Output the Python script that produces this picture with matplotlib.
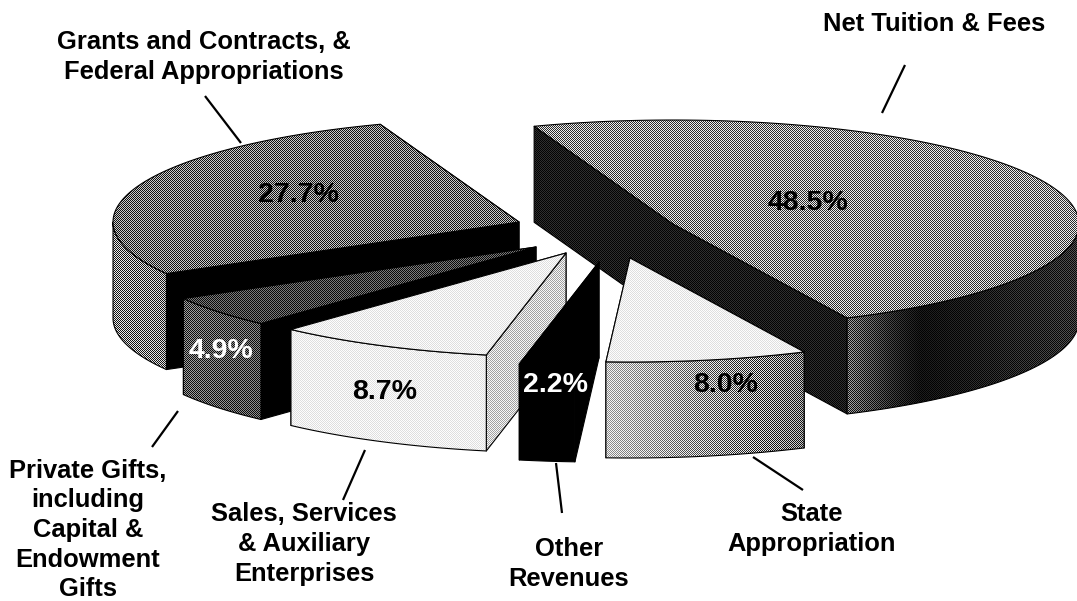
import numpy as np
import matplotlib
matplotlib.use("Agg")
import matplotlib.pyplot as plt
from matplotlib.patches import Polygon

# slices, clockwise from the back of the pie
labels = ["Net Tuition & Fees", "State\nAppropriation", "Other\nRevenues",
          "Sales, Services\n& Auxiliary\nEnterprises",
          "Private Gifts,\nincluding\nCapital &\nEndowment\nGifts",
          "Grants and Contracts, &\nFederal Appropriations"]
shares = [48.5, 8.0, 2.2, 8.7, 4.9, 27.7]

# pie shape, pixels
W, H = 1077, 601
rx, ry, depth = 406, 104, 96
start_angle = 110

# where each exploded slice has its point
centers = [(673, 224), (630, 258), (599, 262), (566, 253), (536, 247), (519, 222)]

# gray levels: top, inner cut, outer wall stops
top_gray = [0.55, 0.93, 0.0, 0.93, 0.26, 0.43]
cut_gray = [0.10, 0.80, 0.0, 0.80, 0.0, 0.0]
wall_stops = [
    ([0, 0.2, 0.32, 1], [0.36, 0.14, 0.06, 0.18]),
    ([0, 1], [0.76, 0.42]),
    ([0, 1], [0.0, 0.0]),
    ([0, 1], [0.93, 0.93]),
    ([0, 1], [0.34, 0.30]),
    ([0, 1], [0.50, 0.48]),
]
text_color = ["black", "black", "white", "black", "white", "black"]

# text positions
pct_pos = [(808, 203), (726, 385), (556, 385), (385, 392), (221, 351), (298, 195)]
label_pos = [(934, 24), (812, 529), (569, 564), (304, 544), (88, 530), (204, 57)]
leaders = [((905, 65), (882, 113)), ((753, 457), (803, 490)), ((556, 463), (562, 513)),
           ((365, 450), (343, 500)), ((178, 411), (152, 447)), ((205, 96), (241, 143))]

yy, xx = np.indices((H, W))
checker = (xx + yy) % 2 * 2 - 1

fig = plt.figure(figsize=(W / 100, H / 100), dpi=100)
ax = fig.add_axes([0, 0, 1, 1])
z = [1]


def shade(points, xp=(0, 1), gp=(0.5, 0.5)):
    points = np.asarray(points)
    x0, x1 = points[:, 0].min(), points[:, 0].max()
    gray = np.interp((xx - x0) / max(x1 - x0, 1), xp, gp)
    img = gray + 0.85 * np.minimum(gray, 1 - gray) * checker
    im = ax.imshow(img, cmap="gray", vmin=0, vmax=1, extent=(0, W, H, 0),
                   interpolation="nearest", aspect="auto", zorder=z[0])
    poly = Polygon(points, closed=True, facecolor="none", edgecolor="black",
                   linewidth=0.8, joinstyle="round", zorder=z[0] + 0.5)
    ax.add_patch(poly)
    im.set_clip_path(poly)
    z[0] += 1


def arc_points(c, t1, t2):
    t = np.radians(np.linspace(t1, t2, 120))
    return np.column_stack([c[0] + rx * np.cos(t), c[1] - ry * np.sin(t)])


def draw_slice(i, t1, t2):
    c = centers[i]
    down = np.array([0, depth])
    arc = arc_points(c, t1, t2)
    apex = np.array(c, dtype=float)
    g = cut_gray[i]
    if t1 - t2 > 170:
        # nearly half the pie: the two cuts read as one flat face
        shade([arc[0], apex, arc[-1], arc[-1] + down, apex + down, arc[0] + down], (0, 1), (g, g))
    else:
        for end in (arc[-1], arc[0]):
            shade([apex, end, end + down, apex + down], (0, 1), (g, g))
    # outer wall is the part of the rim on the near side
    lo, hi = max(t2, -180), min(t1, 0)
    if hi > lo:
        rim = arc_points(c, hi, lo)
        xp, gp = wall_stops[i]
        shade(np.vstack([rim, (rim + down)[::-1]]), xp, gp)
    g = top_gray[i]
    shade(np.vstack([apex, arc]), (0, 1), (g, g))


# angle range of each slice from its share
angles = start_angle - np.concatenate([[0], np.cumsum(shares)]) * 3.6
order = [0, 5, 4, 3, 2, 1]
for i in order:
    draw_slice(i, angles[i], angles[i + 1])

font = ["Liberation Sans", "DejaVu Sans"]
for i in range(len(shares)):
    ax.text(pct_pos[i][0], pct_pos[i][1], f"{shares[i]:.1f}%", color=text_color[i], fontsize=20.5,
            fontweight="bold", family=font, ha="center", va="center", zorder=50)
    ax.text(label_pos[i][0], label_pos[i][1], labels[i], color="black", fontsize=18.4,
            fontweight="bold", family=font, ha="center", va="center", linespacing=1.29, zorder=50)
    ax.plot(*zip(*leaders[i]), color="black", lw=1.6, solid_capstyle="butt", zorder=50)

ax.set_xlim(0, W)
ax.set_ylim(H, 0)
ax.axis("off")
fig.savefig("out.png", dpi=100, facecolor="white")
